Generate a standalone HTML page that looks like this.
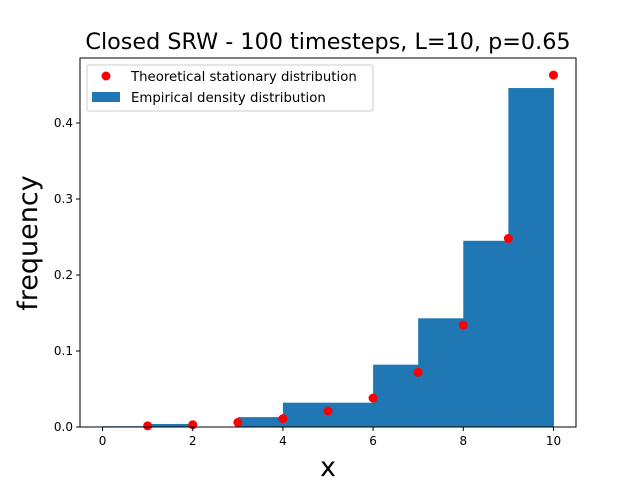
<!DOCTYPE html>
<html><head><meta charset="utf-8"><style>body{margin:0;background:#fff}svg{display:block;font-family:"DejaVu Sans","Liberation Sans",sans-serif}</style></head>
<body>
<svg id="chart" width="640" height="480">
<rect width="640" height="480" fill="#fff"/>
<g id="bars"></g><g id="pts"></g><g id="axes"></g>
<text x="328" y="49" text-anchor="middle" font-size="22.3">Closed SRW - 100 timesteps, L=10, p=0.65</text>
<text x="328" y="476" text-anchor="middle" font-size="27">x</text>
<text transform="translate(37,243) rotate(-90)" text-anchor="middle" font-size="27">frequency</text>
<g>
<rect x="87" y="65" width="286" height="46" fill="#fff" stroke="#ccc" rx="2"/>
<circle cx="106" cy="76" r="4.5" fill="red"/>
<text x="131" y="81" font-size="13.3">Theoretical stationary distribution</text>
<rect x="92" y="92" width="28" height="10" fill="#1f77b4"/>
<text x="131" y="102" font-size="13.3">Empirical density distribution</text>
</g>
</svg>
<script>
const binStarts=[0,1,2,3,4,5,6,7,8,9];
const binHeights=[0.001,0.004,0,0.013,0.032,0.032,0.082,0.143,0.245,0.446];
const pointX=[1,2,3,4,5,6,7,8,9,10];
const pointY=[0.0015,0.003,0.006,0.011,0.021,0.038,0.072,0.134,0.248,0.463];
const xTicks=[0,2,4,6,8,10];
const yTicks=[0,0.1,0.2,0.3,0.4];
const NS="http://www.w3.org/2000/svg";
const L=80,R=576,T=58,B=427,YMAX=0.4855;
const sx=v=>L+(v+0.5)/11*(R-L);
const sy=v=>B-v/YMAX*(B-T);
function mk(t,a,p){const e=document.createElementNS(NS,t);for(const k in a)e.setAttribute(k,a[k]);p.appendChild(e);return e;}
const bars=document.getElementById('bars');
binStarts.forEach((s,i)=>{if(binHeights[i]<=0)return;
const r=mk('rect',{x:sx(s),y:sy(binHeights[i]),width:sx(s+1)-sx(s)+0.5,height:B-sy(binHeights[i]),fill:'#1f77b4'},bars);

});
const pts=document.getElementById('pts');
pointX.forEach((x,i)=>{const c=mk('circle',{cx:sx(x),cy:sy(pointY[i]),r:4.5,fill:'red'},pts);

});
const ax=document.getElementById('axes');
const fr=mk('rect',{x:L,y:T,width:R-L,height:B-T,fill:'none',stroke:'#000','stroke-width':1},ax);


xTicks.forEach(v=>{mk('line',{x1:sx(v),x2:sx(v),y1:B,y2:B+4,stroke:'#000'},ax);
const t=mk('text',{x:sx(v),y:B+18,'text-anchor':'middle','font-size':12},ax);t.textContent=v;

});
yTicks.forEach(v=>{mk('line',{x1:L-4,x2:L,y1:sy(v),y2:sy(v),stroke:'#000'},ax);
const t=mk('text',{x:L-7,y:sy(v)+4,'text-anchor':'end','font-size':12},ax);t.textContent=v.toFixed(1);

});
</script>
</body></html>
